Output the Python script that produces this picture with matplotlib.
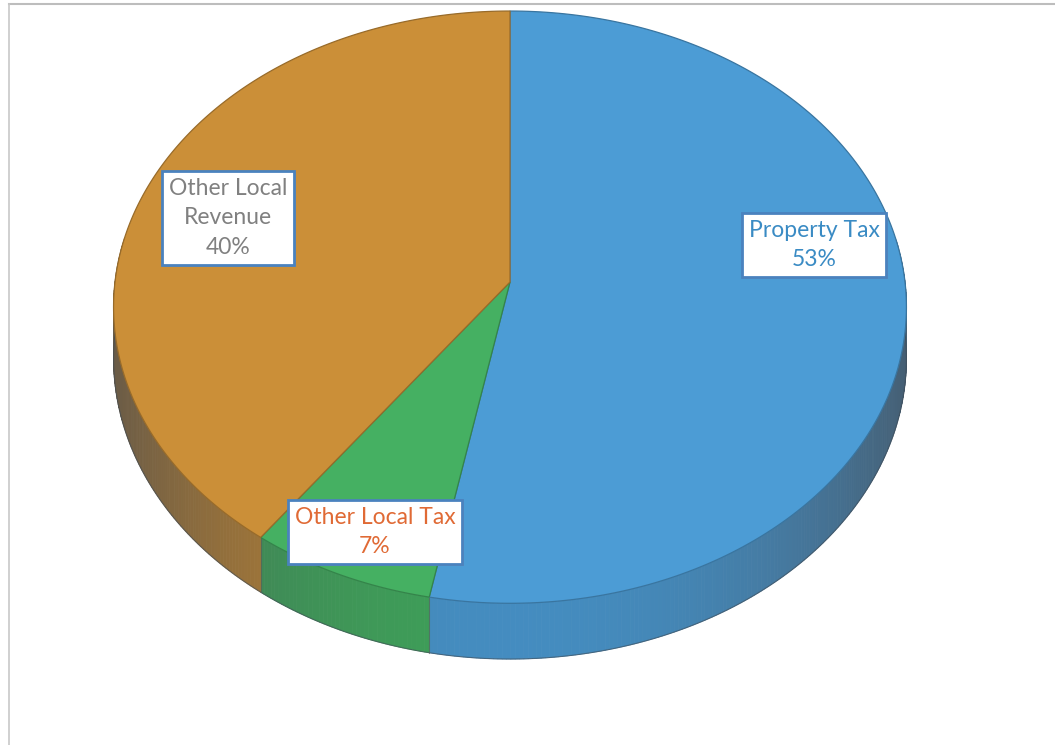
import numpy as np
import matplotlib
matplotlib.use("Agg")
import matplotlib.pyplot as plt
from matplotlib.patches import Polygon
from matplotlib.colors import to_rgb

# data
labels = ["Property Tax", "Other Local Tax", "Other Local\nRevenue"]
shares = [53, 7, 40]
colors = ["#4C9CD5", "#45B062", "#CB8F38"]
text_colors = ["#3A8BC4", "#E06A35", "#808080"]
label_pos = [(814, 245), (375, 532), (228, 218)]

# perspective projection of the pie disc (pixel space)
X0, Y0 = 510, 282
A, B, K = 395, 294, 0.085
DEPTH = 51


def project(t, z=0.0):
    u, v = np.cos(t), np.sin(t)
    w = 1 + K * v
    return X0 + A * u / w, Y0 - B * v / w + DEPTH * z / w


def side_color(c, t):
    c = np.array(to_rgb(c))
    gray = np.array([0.30, 0.32, 0.35])
    m = 0.7 * abs(np.cos(t)) ** 2
    return np.clip((c * (1 - m) + gray * m) * 0.9, 0, 1)


fig = plt.figure(figsize=(10.55, 7.45), dpi=100)
ax = fig.add_axes([0, 0, 1, 1])
ax.set_xlim(0, 1055)
ax.set_ylim(745, 0)
ax.axis("off")

# frame
ax.plot([9, 1055], [4, 4], color="#BDBDBD", lw=1.5)
ax.plot([9, 9], [4, 745], color="#C8C8C8", lw=1.2)

# slice angles, clockwise from 12 o'clock
fracs = np.array(shares) / sum(shares)
bounds = np.pi / 2 - 2 * np.pi * np.concatenate([[0], np.cumsum(fracs)])

# side walls (front half only is visible)
for i, c in enumerate(colors):
    t1, t0 = bounds[i], bounds[i + 1]
    ts = np.linspace(t0, t1, max(int(abs(t1 - t0) / 0.01), 2))
    for a, b in zip(ts[:-1], ts[1:]):
        if np.sin((a + b) / 2) > 0.15:
            continue
        xa, ya = project(a)
        xb, yb = project(b)
        xa2, ya2 = project(a, 1)
        xb2, yb2 = project(b, 1)
        col = side_color(c, (a + b) / 2)
        ax.add_patch(Polygon([(xa, ya), (xb, yb), (xb2, yb2), (xa2, ya2)],
                             closed=True, fc=col, ec=col, lw=0.6, zorder=2))

# bottom outline of the wall
tt = np.linspace(np.pi, 2 * np.pi, 300)
bx, by = project(tt, 1)
ax.plot(bx, by, color="#3E4A55", lw=0.8, alpha=0.6, zorder=3)

# vertical edges where slices meet on the wall
for t in bounds:
    if np.sin(t) < -0.1:
        x1, y1 = project(t)
        x2, y2 = project(t, 1)
        ax.plot([x1, x2], [y1, y2], color="#5A5A5A", lw=0.8, alpha=0.6, zorder=3)

# top face
for i, c in enumerate(colors):
    t1, t0 = bounds[i], bounds[i + 1]
    ts = np.linspace(t1, t0, 200)
    px, py = project(ts)
    pts = [(X0, Y0)] + list(zip(px, py))
    edge = np.array(to_rgb(c)) * 0.75
    ax.add_patch(Polygon(pts, closed=True, fc=c, ec=edge, lw=0.9, zorder=4))

# data labels
for lab, s, tc, (lx, ly) in zip(labels, shares, text_colors, label_pos):
    # soft shadow behind the box
    ax.text(lx + 2, ly + 2, f"{lab}\n{s}%", ha="center", va="center", color="none",
            fontsize=16.5, family="Lato", linespacing=1.5, zorder=5,
            bbox=dict(boxstyle="square,pad=0.3", fc="#9A9A9A", ec="none", alpha=0.5))
    ax.text(lx, ly, f"{lab}\n{s}%", ha="center", va="center", color=tc,
            fontsize=16.5, family="Lato", linespacing=1.5, zorder=6,
            bbox=dict(boxstyle="square,pad=0.3", fc="white", ec="#4A82BE", lw=2))

fig.savefig("out.png", dpi=100)
